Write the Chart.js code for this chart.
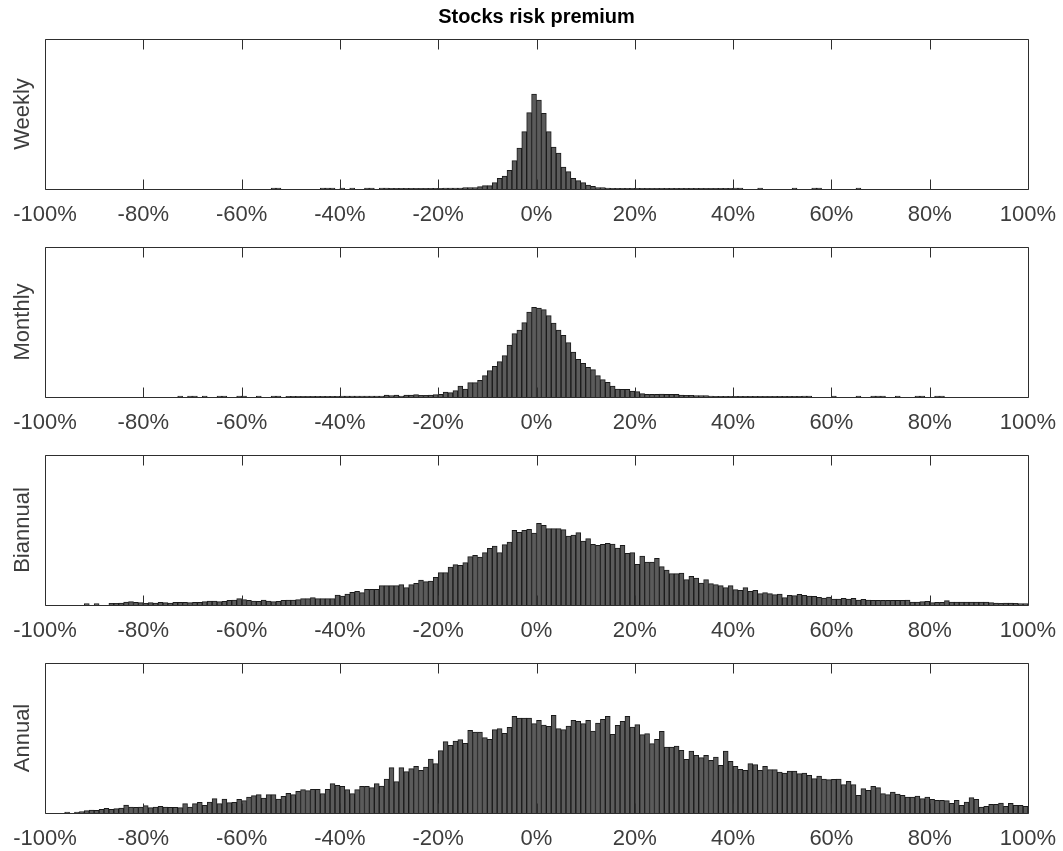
<!DOCTYPE html>
<html>
<head>
<meta charset="utf-8">
<title>Stocks risk premium</title>
<script src="https://cdn.jsdelivr.net/npm/chart.js@4.4.1/dist/chart.umd.min.js"></script>
<style>
  html, body { margin: 0; padding: 0; background: #ffffff; }
  #wrap { position: relative; width: 1063px; height: 851px; overflow: hidden; }
  #wrap canvas { position: absolute; left: 0; }
</style>
</head>
<body>
<div id="wrap">
  <canvas id="panel0" width="1063" height="229" style="top:0px"></canvas>
  <canvas id="panel1" width="1063" height="229" style="top:208px"></canvas>
  <canvas id="panel2" width="1063" height="229" style="top:416px"></canvas>
  <canvas id="panel3" width="1063" height="229" style="top:624px"></canvas>
</div>
<script>
// Histogram bins: 1%-wide bins from -100% to +100%, stored by bin centre
const binCenters = Array.from({ length: 200 }, (_, i) => -99.5 + i);

// Tick positions and labels on the return axis
const tickValues = [-100, -80, -60, -40, -20, 0, 20, 40, 60, 80, 100];
const tickLabels = ['-100%', '-80%', '-60%', '-40%', '-20%', '0%', '20%', '40%', '60%', '80%', '100%'];

// Panel names
const horizons = ['Weekly', 'Monthly', 'Biannual', 'Annual'];

// Bin counts per horizon (20 bins per row)
const weekly = [
  0,0,0,0,0,0,0,0,0,0, 0,0,0,0,0,0,0,0,0,0,
  0,0,0,0,0,0,0,0,0,0, 0,0,0,0,0,0,0,0,0,0,
  0,0,0,0,0,0,3,3,0,0, 0,0,0,0,0,0,3,3,3,0,
  3,0,3,0,0,3,3,0,3,3, 2,2,2,2,2,2,2,2,2,2,
  2,3,3,3,3,4,4,4,7,10, 10,19,32,39,56,85,123,172,229,285,
  267,227,172,126,108,66,52,32,25,19, 12,8,4,4,3,2,2,2,2,2,
  2,2,2,2,2,2,2,2,2,2, 2,2,2,2,2,2,2,2,2,2,
  3,3,0,0,0,3,0,0,0,0, 0,0,3,0,0,0,3,3,0,0,
  0,0,0,0,0,3,0,0,0,0, 0,0,0,0,0,0,0,0,0,0,
  0,0,0,0,0,0,0,0,0,0, 0,0,0,0,0,0,0,0,0,0
];

const monthly = [
  0,0,0,0,0,0,0,0,0,0, 0,0,0,0,0,0,0,0,0,0,
  0,0,0,0,0,0,0,3,0,3, 3,0,3,0,0,3,3,0,0,3,
  3,0,0,3,0,0,3,3,0,2, 2,2,2,2,2,2,2,2,2,2,
  3,3,3,3,3,3,3,3,3,6, 4,6,3,6,6,7,5,5,6,7,
  8,15,13,19,33,24,43,43,50,64, 79,92,106,124,156,190,201,223,255,269,
  267,262,244,222,201,185,163,135,113,101, 89,82,64,52,44,33,24,23,23,18,
  16,10,8,8,8,9,8,8,8,6, 5,5,4,4,4,3,2,2,2,2,
  2,2,2,2,2,2,2,2,2,2, 2,2,2,2,3,3,0,0,0,0,
  3,0,0,0,0,3,0,0,3,3, 3,0,0,3,0,0,0,3,3,0,
  0,3,3,0,0,0,0,0,0,0, 0,0,0,0,0,0,0,0,0,0
];

const biannual = [
  0,0,0,0,0,0,0,0,4,0, 4,0,0,5,5,6,9,10,8,7,
  5,7,6,8,7,6,8,8,8,7, 8,8,10,12,12,10,11,14,15,19,
  16,14,12,11,15,12,10,11,14,15, 15,16,19,19,22,19,19,19,19,30,
  27,33,38,41,37,47,47,47,58,58, 58,58,61,52,61,65,75,70,72,83,
  97,97,114,121,119,127,145,149,144,157, 170,177,157,181,189,224,218,224,227,216,
  245,239,229,229,229,226,207,210,217,192, 199,182,179,182,185,183,171,179,155,157,
  122,147,129,129,140,115,105,94,94,96, 76,86,81,66,76,64,61,58,52,58,
  46,44,52,41,44,34,37,34,31,33, 22,29,28,32,29,27,26,23,21,24,
  18,18,20,18,20,15,17,15,14,14, 14,14,14,14,14,15,9,9,10,11,
  7,8,8,13,9,9,9,9,9,9, 9,9,7,6,5,6,6,5,4,4
];

const annual = [
  0,0,0,0,3,0,3,4,7,9, 8,11,14,11,13,15,24,18,17,18,
  22,16,18,20,18,17,17,16,28,18, 28,32,23,33,43,28,42,31,32,41,
  37,48,52,55,45,55,55,42,50,59, 55,65,70,67,71,71,58,71,88,83,
  80,70,58,70,80,80,76,88,81,102, 136,94,136,124,133,140,128,138,162,148,
  187,214,203,216,220,209,248,243,243,226, 221,250,253,239,257,290,285,285,285,268,
  278,264,260,293,253,250,261,278,275,268, 278,246,270,281,290,236,263,275,290,258,
  265,235,238,208,221,245,198,198,201,188, 161,186,173,166,173,158,168,143,186,155,
  140,131,128,148,145,128,140,130,130,123, 120,126,126,118,120,113,103,111,102,100,
  101,102,85,95,85,53,73,68,80,76, 58,55,63,57,53,48,48,51,43,48,
  41,38,38,37,29,38,23,33,46,41, 18,20,26,26,30,20,29,23,23,20
];

const seriesByPanel = [weekly, monthly, biannual, annual];

const FONT = 'Helvetica, Arial, "Liberation Sans", sans-serif';
const TEXT_GRAY = '#3d3d3d';
const AXIS_GRAY = '#2e2e2e';

// Draws the closed axes box, inward ticks on top and bottom, and the rotated panel name
const axesBoxPlugin = {
  id: 'axesBox',
  afterDatasetsDraw(chart, args, opts) {
    const { ctx, chartArea: a } = chart;
    const xs = chart.scales.x;
    ctx.save();
    ctx.strokeStyle = AXIS_GRAY;
    ctx.lineWidth = 1;
    const L = Math.round(a.left) + 0.5, R = Math.round(a.right) + 0.5;
    const T = Math.round(a.top) + 0.5, B = Math.round(a.bottom) + 0.5;
    ctx.beginPath();
    ctx.rect(L, T, R - L, B - T);
    tickValues.forEach(v => {
      const px = Math.round(xs.getPixelForValue(v)) + 0.5;
      ctx.moveTo(px, B); ctx.lineTo(px, B - 10);
      ctx.moveTo(px, T); ctx.lineTo(px, T + 10);
    });
    ctx.stroke();

    ctx.translate(23, (a.top + a.bottom) / 2);
    ctx.rotate(-Math.PI / 2);
    ctx.font = '22px ' + FONT;
    ctx.fillStyle = TEXT_GRAY;
    ctx.textAlign = 'center';
    ctx.textBaseline = 'middle';
    ctx.fillText(opts.label, 0, 0);
    ctx.restore();
  }
};

function buildPanel(index) {
  const values = seriesByPanel[index];
  const withTitle = index === 0;
  return new Chart(document.getElementById('panel' + index), {
    type: 'bar',
    data: {
      datasets: [{
        data: binCenters.map((x, i) => ({ x: x, y: values[i] })),
        backgroundColor: '#5b5b5b',
        borderColor: '#1a1a1a',
        borderWidth: 1,
        borderSkipped: 'bottom',
        barPercentage: 1,
        categoryPercentage: 1
      }]
    },
    options: {
      responsive: false,
      animation: false,
      events: [],
      layout: { padding: { left: 45, right: 35, top: withTitle ? 0 : 39, bottom: 0 } },
      plugins: {
        legend: { display: false },
        tooltip: { enabled: false },
        title: {
          display: withTitle,
          text: 'Stocks risk premium',
          color: '#000000',
          font: { family: FONT, size: 20, weight: 'bold' },
          padding: { top: 5, bottom: 10 }
        },
        axesBox: { label: horizons[index] }
      },
      scales: {
        x: {
          type: 'linear',
          min: -100,
          max: 100,
          offset: false,
          afterBuildTicks: scale => { scale.ticks = tickValues.map(v => ({ value: v })); },
          afterFit: scale => {
            scale.height = 40;
            scale.paddingLeft = 0;
            scale.paddingRight = 0;
          },
          ticks: {
            autoSkip: false,
            maxRotation: 0,
            padding: 5,
            color: TEXT_GRAY,
            font: { family: FONT, size: 22 },
            callback: value => tickLabels[tickValues.indexOf(value)]
          },
          grid: { display: false },
          border: { display: false }
        },
        y: { display: false, min: 0, max: 450 }
      }
    },
    plugins: [axesBoxPlugin]
  });
}

horizons.forEach((_, i) => buildPanel(i));
</script>
</body>
</html>
